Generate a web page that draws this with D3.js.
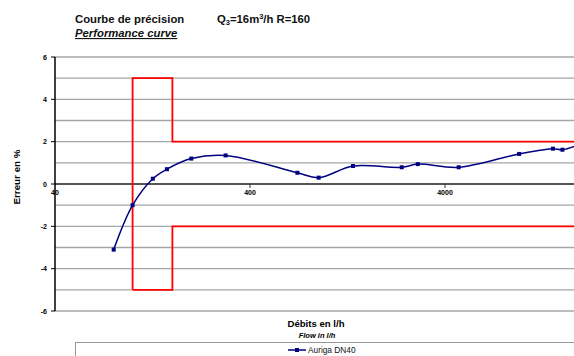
<!DOCTYPE html>
<html>
<head>
<meta charset="utf-8">
<script src="https://cdn.jsdelivr.net/npm/d3@7"></script>
<style>
  body { margin: 0; background: #fff; }
  svg { display: block; font-family: "Liberation Sans", Arial, sans-serif; }
</style>
</head>
<body>
<svg id="chart" width="574" height="356"></svg>
<script>
// courbe de précision
const flow = [80, 100, 127, 150, 200, 300, 700, 900, 1350, 2400, 2900, 4700, 9600, 14300, 16000, 20000];
const error = [-3.1, -1.0, 0.25, 0.7, 1.2, 1.35, 0.53, 0.3, 0.85, 0.79, 0.94, 0.79, 1.42, 1.67, 1.62, 1.9];

// limites d'erreur (Q1 = 100, Q2 = 160)
const limitX = [100, 100, 160, 160, 40000];
const limitUpper = [-5, 5, 5, 2, 2];
const limitLowerX = [100, 160, 160, 40000];
const limitLower = [-5, -5, -2, -2];

const yTicks = [-6, -4, -2, 0, 2, 4, 6];
const xTicks = [40, 400, 4000];

const svg = d3.select("#chart");

const x = d3.scaleLog().domain([40, 40000]).range([55, 640]);
const y = d3.scaleLinear().domain([-6, 6]).range([311, 57]);

// titre
svg.append("text").attr("x", 75).attr("y", 23)
  .attr("font-size", 11.3).attr("font-weight", "bold").attr("fill", "#111")
  .text("Courbe de précision");
const q = svg.append("text").attr("x", 217).attr("y", 23)
  .attr("font-size", 11.3).attr("font-weight", "bold").attr("fill", "#111");
q.append("tspan").text("Q");
q.append("tspan").attr("font-size", 7.5).attr("dy", 2).text("3");
q.append("tspan").attr("dy", -2).text("=16m");
q.append("tspan").attr("font-size", 7.5).attr("dy", -4).text("3");
q.append("tspan").attr("dy", 4).text("/h  R=160");
svg.append("text").attr("x", 75).attr("y", 37)
  .attr("font-size", 11.3).attr("font-weight", "bold").attr("font-style", "italic")
  .attr("text-decoration", "underline").attr("fill", "#111")
  .text("Performance curve");

// grille horizontale
const grid = d3.range(-6, 7, 1);
svg.append("g").selectAll("line").data(grid).enter().append("line")
  .attr("x1", 55).attr("x2", 574)
  .attr("y1", d => y(d)).attr("y2", d => y(d))
  .attr("stroke", d => d === 0 ? "#555" : "#a6a6a6")
  .attr("stroke-width", d => d === 0 ? 2 : 1.3);

// axe Y
svg.append("line").attr("x1", 55).attr("x2", 55).attr("y1", y(6)).attr("y2", y(-6))
  .attr("stroke", "#000").attr("stroke-width", 1.5);
const yAxis = svg.append("g");
yAxis.selectAll("line").data(yTicks).enter().append("line")
  .attr("x1", 51).attr("x2", 55).attr("y1", d => y(d)).attr("y2", d => y(d))
  .attr("stroke", "#000").attr("stroke-width", 1);
yAxis.selectAll("text").data(yTicks).enter().append("text")
  .attr("x", 47).attr("y", d => y(d) + 2.5)
  .attr("text-anchor", "end").attr("font-size", 7).attr("font-weight", "bold")
  .text(d => d);

// axe X (sur la ligne zéro)
const xAxis = svg.append("g");
xAxis.selectAll("line").data(xTicks.slice(1)).enter().append("line")
  .attr("x1", d => x(d)).attr("x2", d => x(d)).attr("y1", y(0)).attr("y2", y(0) + 4)
  .attr("stroke", "#333").attr("stroke-width", 1);
xAxis.selectAll("text").data(xTicks).enter().append("text")
  .attr("x", d => x(d)).attr("y", y(0) + 11)
  .attr("text-anchor", "middle").attr("font-size", 7).attr("font-weight", "bold")
  .text(d => d);

// titres des axes
svg.append("text").attr("transform", "translate(20,177) rotate(-90)")
  .attr("text-anchor", "middle").attr("font-size", 9.8).attr("font-weight", "bold")
  .text("Erreur en %");
svg.append("text").attr("x", 316).attr("y", 327)
  .attr("text-anchor", "middle").attr("font-size", 9.6).attr("font-weight", "bold")
  .text("Débits en l/h");
svg.append("text").attr("x", 317).attr("y", 337.5)
  .attr("text-anchor", "middle").attr("font-size", 7.5).attr("font-weight", "bold")
  .attr("font-style", "italic").text("Flow in l/h");

// limites
const limLine = d3.line().x(d => x(d[0])).y(d => y(d[1]));
svg.append("path").datum(d3.zip(limitX, limitUpper)).attr("d", limLine)
  .attr("fill", "none").attr("stroke", "#ff0000").attr("stroke-width", 1.8);
svg.append("path").datum(d3.zip(limitLowerX, limitLower)).attr("d", limLine)
  .attr("fill", "none").attr("stroke", "#ff0000").attr("stroke-width", 1.8);

// courbe
const pts = d3.zip(flow, error);
const curve = d3.line().x(d => x(d[0])).y(d => y(d[1])).curve(d3.curveCatmullRom.alpha(0.5));
svg.append("path").datum(pts).attr("d", curve)
  .attr("fill", "none").attr("stroke", "#000080").attr("stroke-width", 1.5);
svg.append("g").selectAll("rect").data(pts).enter().append("rect")
  .attr("x", d => x(d[0]) - 2).attr("y", d => y(d[1]) - 2)
  .attr("width", 4).attr("height", 4).attr("fill", "#000080");

// légende
svg.append("rect").attr("x", 75.5).attr("y", 342.5).attr("width", 510).attr("height", 30)
  .attr("fill", "#fff").attr("stroke", "#999").attr("stroke-width", 1);
svg.append("line").attr("x1", 288).attr("x2", 306).attr("y1", 350).attr("y2", 350)
  .attr("stroke", "#000080").attr("stroke-width", 1.5);
svg.append("rect").attr("x", 295).attr("y", 348).attr("width", 4).attr("height", 4).attr("fill", "#000080");
svg.append("text").attr("x", 308).attr("y", 353).attr("font-size", 8.3).attr("fill", "#111")
  .text("Auriga DN40");
</script>
</body>
</html>
